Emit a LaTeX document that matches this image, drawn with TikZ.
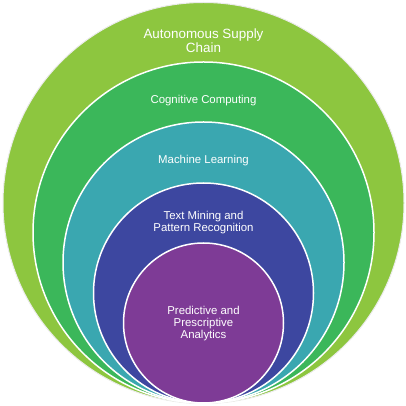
\documentclass[tikz,border=0pt]{standalone}
\usepackage{fontspec}
\setmainfont{Liberation Sans}
\usepackage{tikz}
\definecolor{limegreen}{RGB}{141,198,63}
\definecolor{midgreen}{RGB}{59,183,90}
\definecolor{tealblue}{RGB}{58,167,176}
\definecolor{deepblue}{RGB}{61,71,160}
\definecolor{plum}{RGB}{126,59,150}
\tikzset{ring/.style={line width=1.5pt,draw=white},
  lbl/.style={text=white,align=center,inner sep=0pt,font=\fontsize{11.4}{11.7}\selectfont}}
\begin{document}
\begin{tikzpicture}[line cap=round,line join=round,x=1pt,y=1pt]
\useasboundingbox (0,0) rectangle (406,406);
\draw [ring,fill=limegreen,draw=white!92!black,line width=1pt] (203.5,203) circle (200.5);
\draw [ring,fill=midgreen] (203.5,173.5) circle (170.5);
\draw [ring,fill=tealblue] (203.5,143.5) circle (140.5);
\draw [ring,fill=deepblue] (203.5,113) circle (110);
\draw [ring,fill=plum] (203.5,83) circle (80);
\node[lbl,font=\fontsize{13.4}{14}\selectfont] (chain) at (203.5,365) {Autonomous Supply\\Chain};
\node[lbl] (cognitive) at (203.5,305) {Cognitive Computing};
\node[lbl] (learning) at (203.5,245) {Machine Learning};
\node[lbl] (mining) at (203.5,183.5) {Text Mining and\\Pattern Recognition};
\node[lbl] (analytics) at (203.5,82.5) {Predictive and\\Prescriptive\\Analytics};
\end{tikzpicture}
\end{document}
